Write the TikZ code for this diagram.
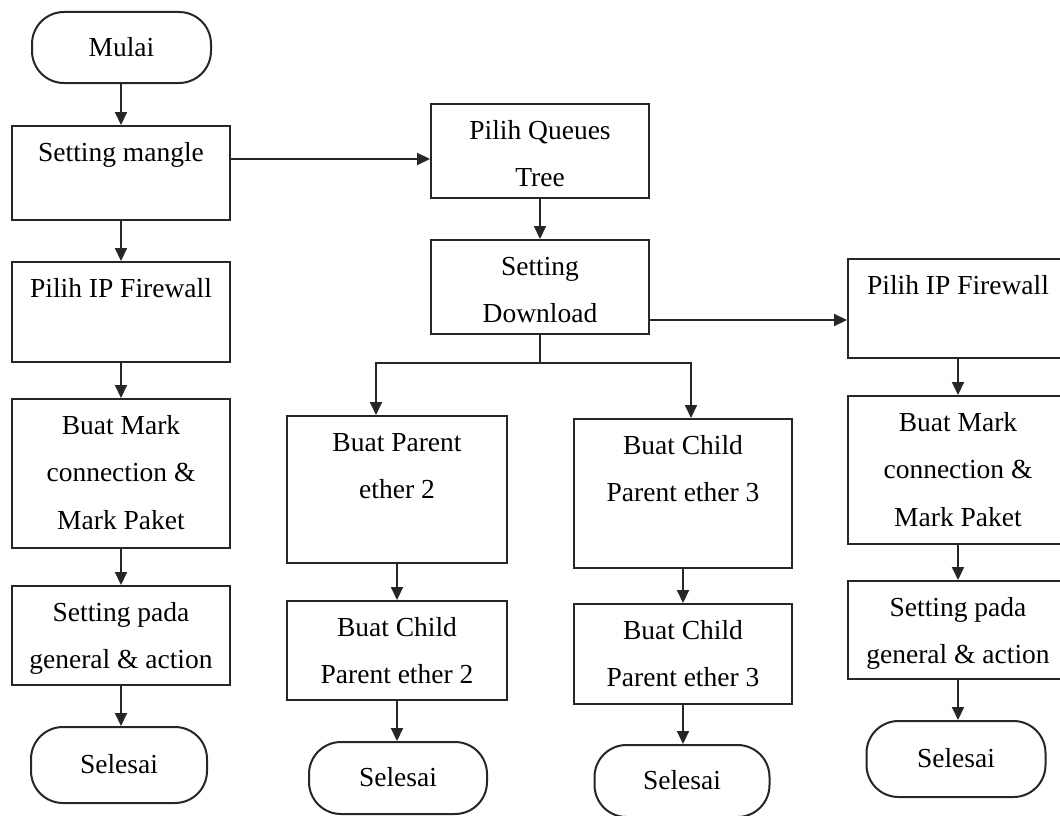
\documentclass[tikz,border=0pt]{standalone}
\usepackage{fontspec}
\setmainfont{Liberation Serif}
\usetikzlibrary{arrows.meta,calc}
\newcommand{\bxt}[3]{\parbox[c][#2][t]{#1}{\centering\rule{0pt}{35pt}#3}}
\tikzset{
  box/.style={draw=black!85, line width=2pt, inner sep=0pt, anchor=north west,
    font=\fontsize{27.5}{47.5}\selectfont},
  term/.style={draw=black!85, line width=2pt, inner sep=0pt, rounded corners=32pt,
    font=\fontsize{27.5}{32}\selectfont},
  ln/.style={line width=2pt, draw=black!85},
  arr/.style={line width=2pt, draw=black!85, -{Triangle[length=13pt,width=12pt]}}
}
\begin{document}
\begin{tikzpicture}[x=1pt,y=-1pt]
\useasboundingbox (0,0) rectangle (1060,816);
\clip (0,0) rectangle (1060,816);
\fill[white] (0,0) rectangle (1060,816);

% left column
\node[term, minimum width=179pt, minimum height=71pt] (mulai) at (121.5,47.5) {\raisebox{2pt}{Mulai}};
\node[box] (sm) at (11,125) {\bxt{218pt}{94pt}{Setting mangle}};
\node[box] (pif) at (11,261) {\bxt{218pt}{100pt}{Pilih IP Firewall}};
\node[box] (bm) at (11,398) {\bxt{218pt}{149pt}{Buat Mark\\connection \&\\Mark Paket}};
\node[box] (sp) at (11,585) {\bxt{218pt}{99pt}{Setting pada\\general \& action}};
\node[term, minimum width=176pt, minimum height=76pt] (sel1) at (119,765) {\raisebox{2pt}{Selesai}};

% middle
\node[box] (pq) at (430,103) {\bxt{218pt}{94pt}{Pilih Queues\\Tree}};
\node[box] (sd) at (430,239) {\bxt{218pt}{94pt}{Setting\\Download}};
\node[box] (bp) at (286,415) {\bxt{220pt}{147pt}{Buat Parent\\ether 2}};
\node[box] (bc2) at (286,600) {\bxt{220pt}{99pt}{Buat Child\\Parent ether 2}};
\node[term, minimum width=178pt, minimum height=72pt] (sel2) at (398,778) {\raisebox{2pt}{Selesai}};
\node[box] (bc3a) at (573,418) {\bxt{218pt}{149pt}{Buat Child\\Parent ether 3}};
\node[box] (bc3b) at (573,603) {\bxt{218pt}{100pt}{Buat Child\\Parent ether 3}};
\node[term, minimum width=175pt, minimum height=72pt] (sel3) at (682,781) {\raisebox{2pt}{Selesai}};

% right column
\node[box] (rf) at (847,258) {\bxt{220pt}{99pt}{Pilih IP Firewall}};
\node[box] (rbm) at (847,395) {\bxt{220pt}{148pt}{Buat Mark\\connection \&\\Mark Paket}};
\node[box] (rsp) at (847,580) {\bxt{220pt}{98pt}{Setting pada\\general \& action}};
\node[term, minimum width=179pt, minimum height=76pt] (sel4) at (956,759) {\raisebox{2pt}{Selesai}};

% connectors left
\draw[arr] (sm.north |- mulai.south) -- (sm.north);
\draw[arr] (sm.south) -- (pif.north);
\draw[arr] (pif.south) -- (bm.north);
\draw[arr] (bm.south) -- (sp.north);
\draw[arr] (sp.south) -- (sp.south |- sel1.north);

\coordinate (smout) at ([yshift=-34pt]sm.north east);
\draw[arr] (smout) -- (smout -| pq.west);

% middle connectors
\draw[arr] (pq.south) -- (sd.north);
\coordinate (sdout) at ([yshift=15pt]sd.south east);
\draw[arr] (sdout) -- (sdout -| rf.west);
\coordinate (splity) at (0,363);
\coordinate (split) at (sd.south |- splity);
\draw[ln] (sd.south) -- (split);
\draw[arr] (split) -| ([xshift=-21pt]bp.north);
\draw[arr] (split) -| ([xshift=8pt]bc3a.north);
\draw[arr] (bp.south) -- (bc2.north);
\draw[arr] (bc2.south) -- (bc2.south |- sel2.north);
\draw[arr] (bc3a.south) -- (bc3b.north);
\draw[arr] (bc3b.south) -- (bc3b.south |- sel3.north);

% right connectors
\draw[arr] (rf.south) -- (rbm.north);
\draw[arr] (rbm.south) -- (rsp.north);
\draw[arr] (rsp.south) -- (rsp.south |- sel4.north);
\end{tikzpicture}
\end{document}
